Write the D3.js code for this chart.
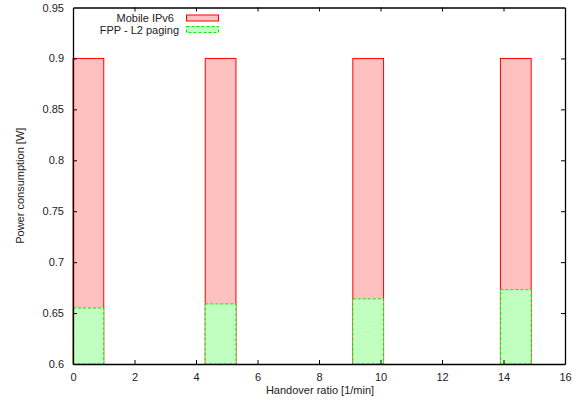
<!DOCTYPE html>
<html>
<head>
<meta charset="utf-8">
<script src="https://cdn.jsdelivr.net/npm/d3@7"></script>
<style>
  body { margin: 0; background: #fff; }
  svg { display: block; font-family: "Liberation Sans", Arial, Helvetica, sans-serif; }
</style>
</head>
<body>
<svg id="chart" width="584" height="405"></svg>
<script>
// Handover ratio positions (box centres) and power consumption per scheme
const handoverRatio = [0.5, 4.8, 9.6, 14.4];
const mobileIPv6 = [0.9, 0.9, 0.9, 0.9];
const fppL2Paging = [0.655, 0.659, 0.664, 0.673];
const seriesNames = ["Mobile IPv6", "FPP - L2 paging"];
const xTicks = [0, 2, 4, 6, 8, 10, 12, 14, 16];
const yTicks = [0.6, 0.65, 0.7, 0.75, 0.8, 0.85, 0.9, 0.95];
const boxWidth = 1.0;

const svg = d3.select("#chart");
const margin = { left: 73, right: 19, top: 7.5, bottom: 41 };
const W = 584, H = 405;
const x = d3.scaleLinear().domain([0, 16]).range([margin.left, W - margin.right]);
const y = d3.scaleLinear().domain([0.6, 0.95]).range([H - margin.bottom, margin.top]);

const styles = [
  { fill: "#ffc0c0", stroke: "#ff0000", dash: null },
  { fill: "#c0ffc0", stroke: "#00ee00", dash: "3,2" }
];
const series = [mobileIPv6, fppL2Paging];

// Boxes: Mobile IPv6 drawn first, FPP overlaid in front
series.forEach((vals, si) => {
  svg.append("g").selectAll("rect")
    .data(vals.map((v, i) => ({ x: handoverRatio[i], v })))
    .join("rect")
    .attr("x", d => x(d.x - boxWidth / 2))
    .attr("width", d => x(d.x + boxWidth / 2) - x(d.x - boxWidth / 2))
    .attr("y", d => y(d.v))
    .attr("height", d => y(0.6) - y(d.v))
    .attr("fill", styles[si].fill)
    .attr("stroke", styles[si].stroke)
    .attr("stroke-width", 1)
    .attr("stroke-dasharray", styles[si].dash);
});

// Axes with inward ticks on all four sides
const tickLen = 4;
const axisColor = "#000";
const axisBottomG = svg.append("g").attr("transform", `translate(0,${y(0.6)})`)
  .call(d3.axisBottom(x).tickValues(xTicks).tickSizeInner(-tickLen).tickSizeOuter(0).tickPadding(9).tickFormat(d3.format("d")));
const axisTopG = svg.append("g").attr("transform", `translate(0,${y(0.95)})`)
  .call(d3.axisTop(x).tickValues(xTicks).tickSizeInner(-tickLen).tickSizeOuter(0).tickFormat(""));
const axisLeftG = svg.append("g").attr("transform", `translate(${x(0)},0)`)
  .call(d3.axisLeft(y).tickValues(yTicks).tickSizeInner(-tickLen).tickSizeOuter(0).tickPadding(9).tickFormat(d => String(+d.toFixed(2))));
const axisRightG = svg.append("g").attr("transform", `translate(${x(16)},0)`)
  .call(d3.axisRight(y).tickValues(yTicks).tickSizeInner(-tickLen).tickSizeOuter(0).tickFormat(""));

[axisBottomG, axisTopG, axisLeftG, axisRightG].forEach(g => {
  g.select(".domain").attr("stroke", axisColor).attr("stroke-width", 1.3);
  g.selectAll(".tick line").attr("stroke", axisColor).attr("stroke-width", 1);
  g.selectAll(".tick text").attr("font-size", 11).attr("fill", "#222")
    .attr("font-family", "'Liberation Sans', Arial, sans-serif");
});
// Drop the edge ticks that would sit on the frame corners
[axisBottomG, axisTopG].forEach(g => g.selectAll(".tick line").filter(d => d === 0 || d === 16).remove());
[axisLeftG, axisRightG].forEach(g => g.selectAll(".tick line").filter(d => d === 0.6 || d === 0.95).remove());

// Axis titles
svg.append("text")
  .attr("x", 320).attr("y", 394)
  .attr("text-anchor", "middle").attr("font-size", 11).attr("fill", "#222")
  .text("Handover ratio [1/min]");
svg.append("text")
  .attr("transform", `translate(24,${(y(0.6) + y(0.95)) / 2}) rotate(-90)`)
  .attr("text-anchor", "middle").attr("font-size", 11).attr("fill", "#222")
  .text("Power consumption [W]");

// Legend
const legend = svg.append("g");
const legendTextX = [174, 179];
seriesNames.forEach((name, i) => {
  const cy = 18 + i * 11.5;
  legend.append("text")
    .attr("x", legendTextX[i]).attr("y", cy + 4)
    .attr("text-anchor", "end").attr("font-size", 11).attr("fill", "#222")
    .text(name);
  legend.append("rect")
    .attr("x", 186.5).attr("y", cy - 3)
    .attr("width", 32).attr("height", 6)
    .attr("fill", styles[i].fill)
    .attr("stroke", styles[i].stroke)
    .attr("stroke-dasharray", styles[i].dash);
});
</script>
</body>
</html>
